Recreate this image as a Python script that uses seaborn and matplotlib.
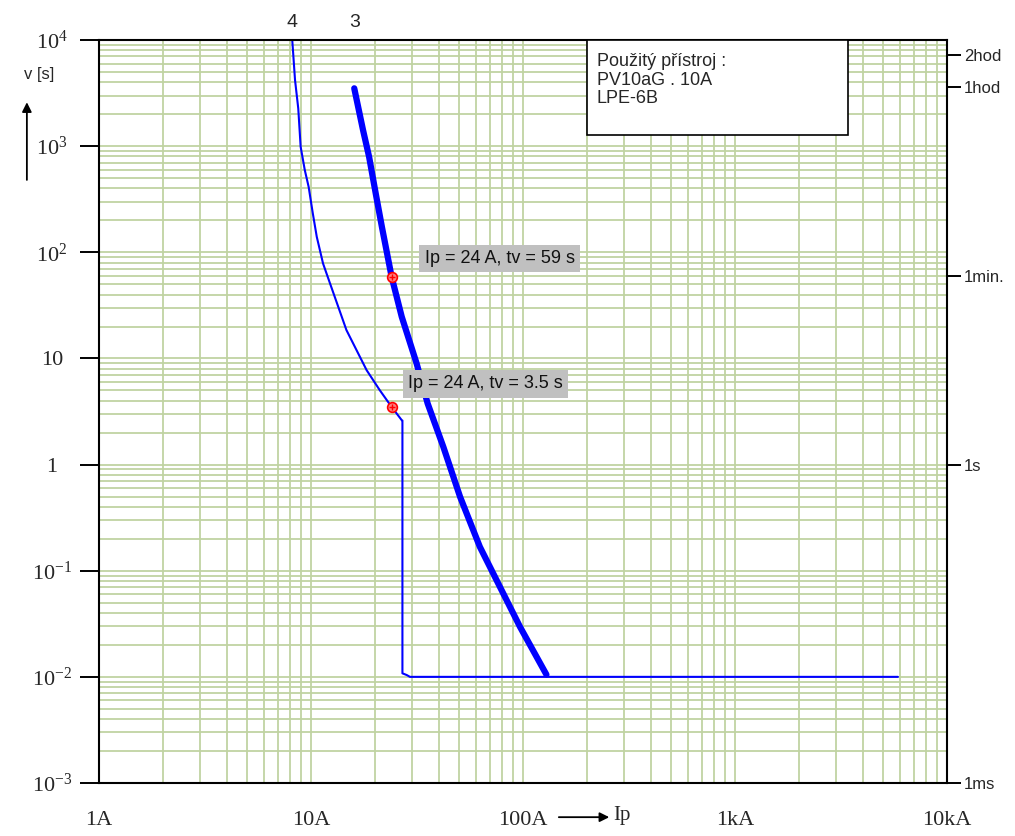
import matplotlib
matplotlib.use("Agg")
import matplotlib.pyplot as plt
import matplotlib.ticker as mticker
import numpy as np
import pandas as pd
import seaborn as sns

# fuse characteristic curves (current in A, time in s)
curve3_i = [16.0, 17.6, 18.8, 20.2, 21.6, 24.0, 26.8, 31.5, 35.5, 42.1, 50.5, 62.6, 77.9, 96.9, 129.0]
curve3_t = [3510, 1419, 794, 359, 174, 59, 24.7, 8.97, 3.77, 1.47, 0.497, 0.168, 0.0703, 0.0295, 0.0105]

curve4_i = [8.16, 8.41, 8.71, 8.94, 9.35, 9.75, 10.2, 10.65, 11.4, 12.3, 14.7, 18.3, 21.1, 24.0,
            26.8, 27.0, 27.0, 28.3, 29.3, 5870.0]
curve4_t = [10000, 4200, 2270, 986, 596, 414, 233, 140, 78.5, 50.9, 18.5, 7.76, 5.03, 3.5,
            2.62, 2.6, 0.0108, 0.0104, 0.0100, 0.0100]

points_i = [24.0, 24.0]
points_t = [59.0, 3.5]
point_texts = ["Ip = 24 A, tv = 59 s", "Ip = 24 A, tv = 3.5 s"]
point_offsets = [(24, 13), (12, 16.5)]

x_ticks = [1, 10, 100, 1000, 10000]
x_labels = ["1A", "10A", "100A", "1kA", "10kA"]
y_ticks = [1e-3, 1e-2, 1e-1, 1, 10, 100, 1e3, 1e4]
y_labels = [r"$\mathregular{10^{-3}}$", r"$\mathregular{10^{-2}}$", r"$\mathregular{10^{-1}}$",
            "1", "10", r"$\mathregular{10^{2}}$", r"$\mathregular{10^{3}}$", r"$\mathregular{10^{4}}$"]
r_ticks = [7200, 3600, 60, 1, 0.001]
r_labels = ["2hod", "1hod", "1min.", "1s", "1ms"]

info_lines = ["Použitý přístroj :", "PV10aG . 10A", "LPE-6B"]

sns.set_theme(style="white")
plt.rcParams["font.family"] = ["Liberation Sans", "DejaVu Sans"]

GRID = "#c0d3a2"
BLUE = "#0000ff"

fig = plt.figure(figsize=(10.15, 8.36), dpi=100)
ax = fig.add_axes([0.0975, 0.0634, 0.8355, 0.8887])

df3 = pd.DataFrame({"I": curve3_i, "t": curve3_t})
df4 = pd.DataFrame({"I": curve4_i, "t": curve4_t})
sns.lineplot(data=df4, x="I", y="t", sort=False, estimator=None, color=BLUE, lw=1.5, ax=ax)
sns.lineplot(data=df3, x="I", y="t", sort=False, estimator=None, color=BLUE, lw=4.5, ax=ax)

ax.set_xscale("log")
ax.set_yscale("log")
ax.set_xlim(1, 10000)
ax.set_ylim(1e-3, 1e4)

ax.xaxis.set_major_locator(mticker.FixedLocator(x_ticks))
ax.xaxis.set_minor_locator(mticker.LogLocator(base=10, subs=range(2, 10), numticks=50))
ax.yaxis.set_major_locator(mticker.FixedLocator(y_ticks))
ax.yaxis.set_minor_locator(mticker.LogLocator(base=10, subs=range(2, 10), numticks=50))
ax.set_xticklabels(x_labels, family="Liberation Serif", fontsize=16)
ax.set_yticklabels(y_labels, family="Liberation Serif", fontsize=16, ha="center")
ax.tick_params(axis="x", which="major", direction="out", length=12, width=1.4, color="black", pad=8)
ax.tick_params(axis="y", which="major", direction="out", length=14, width=1.4, color="black", pad=20)
ax.tick_params(which="minor", length=0)
ax.set_axisbelow(True)
ax.grid(which="both", color=GRID, lw=1.3)
for sp in ax.spines.values():
    sp.set_color("black")
    sp.set_linewidth(1.5)
ax.set_xlabel("")
ax.set_ylabel("")

# right axis with time names
axr = ax.twinx()
axr.set_yscale("log")
axr.set_ylim(1e-3, 1e4)
axr.yaxis.set_major_locator(mticker.FixedLocator(r_ticks))
axr.yaxis.set_minor_locator(mticker.NullLocator())
axr.set_yticklabels(r_labels, fontsize=12)
axr.tick_params(axis="y", direction="out", length=10, width=1.4, color="black", pad=2)
axr.grid(False)
for sp in axr.spines.values():
    sp.set_visible(False)

# marked points with labels
ax.plot(points_i, points_t, "o", ms=7, mfc="#ff8080", mec="red", mew=1.2, zorder=5)
ax.plot(points_i, points_t, "+", ms=5, color="red", mew=1, zorder=6)
for px, pt, txt, off in zip(points_i, points_t, point_texts, point_offsets):
    ax.annotate(txt, xy=(px, pt), xytext=off, textcoords="offset points",
                ha="left", va="center", fontsize=13, color="#111111",
                bbox=dict(boxstyle="square,pad=0.3", fc="#c0c0c0", ec="none"), zorder=7)

# curve numbers above the frame
ax.text(curve4_i[0], 1.024, "4", transform=ax.get_xaxis_transform(), ha="center", va="center", fontsize=14)
ax.text(curve3_i[0], 1.024, "3", transform=ax.get_xaxis_transform(), ha="center", va="center", fontsize=14)

# instrument info box
ax.add_patch(plt.Rectangle((0.575, 0.872), 0.308, 0.128, transform=ax.transAxes,
                           fc="white", ec="black", lw=1.2, zorder=8))
ax.text(0.587, 0.982, "\n".join(info_lines), transform=ax.transAxes, ha="left", va="top",
        fontsize=13, linespacing=1.1, zorder=9)

# axis captions with arrows
ax.text(-0.07, 0.953, "v [s]", transform=ax.transAxes, ha="center", va="center", fontsize=12)
ax.annotate("", xy=(-0.085, 0.92), xytext=(-0.085, 0.808), xycoords="axes fraction",
            textcoords="axes fraction", annotation_clip=False,
            arrowprops=dict(arrowstyle="-|>", color="black", lw=1.3, mutation_scale=14))
ax.annotate("", xy=(0.605, -0.046), xytext=(0.539, -0.046), xycoords="axes fraction",
            textcoords="axes fraction", annotation_clip=False,
            arrowprops=dict(arrowstyle="-|>", color="black", lw=1.3, mutation_scale=14))
ax.text(0.607, -0.044, "Ip", transform=ax.transAxes, ha="left", va="center",
        fontsize=15, family="Liberation Serif")

fig.savefig("out.png", dpi=100)
